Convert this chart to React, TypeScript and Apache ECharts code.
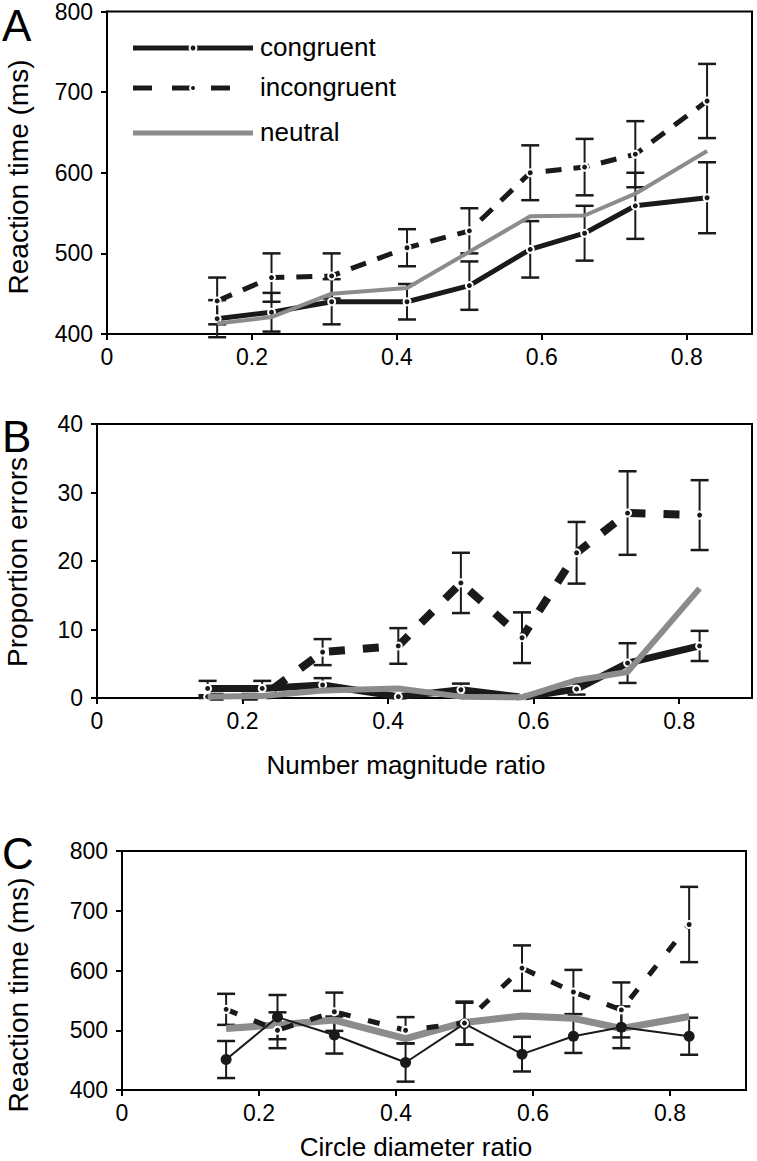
import React, { useEffect, useRef } from "react";
import * as echarts from "echarts";

// x positions (ratios) shared by all panels
const ratios = [0.152, 0.227, 0.31, 0.414, 0.5, 0.584, 0.659, 0.729, 0.828];
const xTicks = [0, 0.2, 0.4, 0.6, 0.8];

// Panel A: reaction time (ms), number magnitude
const congA = [419, 427, 440, 440, 460, 505, 525, 559, 569];
const congErrA = [23, 24, 28, 22, 30, 35, 34, 41, 44];
const incA = [441, 470, 472, 507, 528, 600, 607, 623, 689];
const incErrA = [29, 30, 28, 23, 28, 34, 35, 41, 46];
const neutA = [413, 421, 450, 457, 502, 546, 547, 574, 627];

// Panel B: proportion errors
const congB = [1.4, 1.4, 1.9, 0.2, 1.2, 0.1, 1.3, 5.1, 7.6];
const congErrB = [1.1, 1.1, 1.0, 0.2, 0.9, 0.1, 0.8, 2.9, 2.2];
const incB = [0.2, 0.2, 6.7, 7.6, 16.8, 8.8, 21.2, 27.0, 26.7];
const incErrB = [0.2, 0.2, 1.9, 2.6, 4.4, 3.7, 4.5, 6.1, 5.1];
const neutB = [0.2, 0.3, 1.1, 1.4, 0.2, 0.1, 2.6, 3.8, 16.0];

// Panel C: reaction time (ms), circle diameter
const congC = [451, 522, 492, 446, 511, 460, 490, 505, 490];
const congErrC = [31, 37, 31, 32, 35, 29, 28, 35, 31];
const incC = [535, 500, 531, 500, 512, 604, 564, 534, 677];
const incErrC = [26, 30, 32, 22, 36, 38, 37, 46, 63];
const neutC = [503, 509, 517, 486, 513, 524, 520, 503, 523];

const FONT = "'Liberation Sans', Arial, Helvetica, sans-serif";
const BLACK = "#1a1a1a";
const GRAY = "#8c8c8c";

const pairs = (ys: number[]) => ratios.map((x, i) => [x, ys[i]]);
const errs = (ys: number[], es: number[]) =>
  ratios.map((x, i) => [x, ys[i] - es[i], ys[i] + es[i]]);

function errorSeries(idx: number, ys: number[], es: number[]) {
  return {
    type: "custom",
    xAxisIndex: idx,
    yAxisIndex: idx,
    z: 1,
    silent: true,
    encode: { x: 0, y: [1, 2] },
    data: errs(ys, es),
    renderItem: (params: any, api: any) => {
      const x = api.value(0);
      const lo = api.coord([x, api.value(1)]);
      const hi = api.coord([x, api.value(2)]);
      const hw = 9;
      const st = { stroke: BLACK, lineWidth: 2 };
      return {
        type: "group",
        children: [
          { type: "line", shape: { x1: lo[0], y1: lo[1], x2: hi[0], y2: hi[1] }, style: st },
          { type: "line", shape: { x1: hi[0] - hw, y1: hi[1], x2: hi[0] + hw, y2: hi[1] }, style: { stroke: BLACK, lineWidth: 2.5 } },
          { type: "line", shape: { x1: lo[0] - hw, y1: lo[1], x2: lo[0] + hw, y2: lo[1] }, style: { stroke: BLACK, lineWidth: 2.5 } },
        ],
      };
    },
  };
}

function lineSeries(idx: number, name: string, ys: number[], opts: any) {
  return {
    type: "line",
    name,
    xAxisIndex: idx,
    yAxisIndex: idx,
    data: pairs(ys),
    z: opts.z ?? 3,
    symbol: opts.symbol ?? "none",
    symbolSize: opts.symbolSize ?? 7,
    showSymbol: opts.symbol !== undefined && opts.symbol !== "none",
    itemStyle: opts.itemStyle,
    lineStyle: opts.lineStyle,
    silent: true,
  };
}

const ringMarker = { color: BLACK, borderColor: "#fff", borderWidth: 2 };

function xAxis(idx: number, max: number) {
  return {
    gridIndex: idx,
    type: "value",
    min: 0,
    max,
    interval: 0.2,
    axisLine: { show: true, onZero: false, lineStyle: { color: "#000", width: 2 } },
    axisTick: { show: true, length: 6, lineStyle: { color: "#000", width: 2 }, customValues: xTicks },
    axisLabel: {
      customValues: xTicks,
      formatter: (v: number) => (v === 0 ? "0" : v.toFixed(1)),
      fontSize: 23,
      color: "#000",
      fontFamily: FONT,
      margin: 11,
    },
    splitLine: { show: false },
  };
}

function yAxis(idx: number, min: number, max: number, interval: number) {
  return {
    gridIndex: idx,
    type: "value",
    min,
    max,
    interval,
    axisLine: { show: true, lineStyle: { color: "#000", width: 2 } },
    axisTick: { show: true, length: 6, lineStyle: { color: "#000", width: 2 } },
    axisLabel: { fontSize: 23, color: "#000", fontFamily: FONT, margin: 14 },
    splitLine: { show: false },
  };
}

function textEl(text: string, x: number, y: number, size: number, rotate = 0, align = "center") {
  return {
    type: "text",
    x,
    y,
    rotation: rotate,
    style: {
      text,
      fill: "#000",
      font: `${size}px ${FONT}`,
      textAlign: align,
      textVerticalAlign: "middle",
    },
  };
}

export default function App() {
  const ref = useRef<HTMLDivElement>(null);
  useEffect(() => {
    if (!ref.current) return;
    const chart = echarts.init(ref.current, undefined, { renderer: "svg" });
    const gridBase = { show: true, borderColor: "#000", borderWidth: 2, backgroundColor: "transparent" };
    const option: any = {
      animation: false,
      backgroundColor: "#fff",
      grid: [
        { ...gridBase, left: 107, top: 11, width: 645, height: 323 },
        { ...gridBase, left: 97, top: 424, width: 655, height: 274 },
        { ...gridBase, left: 122, top: 851, width: 624, height: 239 },
      ],
      xAxis: [xAxis(0, 0.89), xAxis(1, 0.9), xAxis(2, 0.911)],
      yAxis: [yAxis(0, 400, 800, 100), yAxis(1, 0, 40, 10), yAxis(2, 400, 800, 100)],
      series: [
        // Panel A
        errorSeries(0, incA, incErrA),
        errorSeries(0, congA, congErrA),
        lineSeries(0, "congruent", congA, {
          symbol: "circle", symbolSize: 7, itemStyle: ringMarker,
          lineStyle: { color: BLACK, width: 5 },
        }),
        lineSeries(0, "incongruent", incA, {
          symbol: "circle", symbolSize: 7, itemStyle: ringMarker,
          lineStyle: { color: BLACK, width: 5, type: [16, 12] },
        }),
        lineSeries(0, "neutral", neutA, { lineStyle: { color: GRAY, width: 4 }, z: 4 }),
        // Panel B
        errorSeries(1, incB, incErrB),
        errorSeries(1, congB, congErrB),
        lineSeries(1, "congruent", congB, {
          symbol: "circle", symbolSize: 7, itemStyle: ringMarker,
          lineStyle: { color: BLACK, width: 7 },
        }),
        lineSeries(1, "incongruent", incB, {
          symbol: "circle", symbolSize: 7, itemStyle: ringMarker,
          lineStyle: { color: BLACK, width: 8, type: [16, 18] },
        }),
        lineSeries(1, "neutral", neutB, { lineStyle: { color: GRAY, width: 6 }, z: 4 }),
        // Panel C
        errorSeries(2, incC, incErrC),
        errorSeries(2, congC, congErrC),
        lineSeries(2, "neutral", neutC, { lineStyle: { color: GRAY, width: 7 }, z: 2 }),
        lineSeries(2, "congruent", congC, {
          symbol: "circle", symbolSize: 11, itemStyle: { color: BLACK },
          lineStyle: { color: BLACK, width: 2 },
        }),
        lineSeries(2, "incongruent", incC, {
          symbol: "circle", symbolSize: 7, itemStyle: ringMarker,
          lineStyle: { color: BLACK, width: 5, type: [12, 18] },
        }),
      ],
      graphic: [
        // panel letters
        textEl("A", 2, 25, 44, 0, "left"),
        textEl("B", 2, 436, 44, 0, "left"),
        textEl("C", 2, 853, 44, 0, "left"),
        // axis titles
        textEl("Reaction time (ms)", 18, 177, 28, Math.PI / 2),
        textEl("Proportion errors", 17, 562, 28, Math.PI / 2),
        textEl("Reaction time (ms)", 18, 995, 28, Math.PI / 2),
        textEl("Number magnitude ratio", 406, 765, 26),
        textEl("Circle diameter ratio", 416, 1147, 26),
        // legend (panel A)
        { type: "line", shape: { x1: 133, y1: 48, x2: 253, y2: 48 }, style: { stroke: BLACK, lineWidth: 5 } },
        { type: "circle", shape: { cx: 193, cy: 48, r: 3.5 }, style: { fill: BLACK, stroke: "#fff", lineWidth: 2 } },
        textEl("congruent", 260, 47, 26, 0, "left"),
        { type: "line", shape: { x1: 133, y1: 88, x2: 230, y2: 88 }, style: { stroke: BLACK, lineWidth: 5, lineDash: [19, 20] } },
        { type: "circle", shape: { cx: 193, cy: 88, r: 3 }, style: { fill: BLACK, stroke: "#fff", lineWidth: 2 } },
        textEl("incongruent", 260, 87, 26, 0, "left"),
        { type: "line", shape: { x1: 133, y1: 133, x2: 253, y2: 133 }, style: { stroke: GRAY, lineWidth: 5 } },
        textEl("neutral", 260, 132, 26, 0, "left"),
      ],
    };
    chart.setOption(option);
    return () => chart.dispose();
  }, []);
  return (
    <div
      ref={ref}
      style={{ position: "fixed", left: 0, top: 0, width: 757, height: 1161, background: "#fff" }}
    />
  );
}
